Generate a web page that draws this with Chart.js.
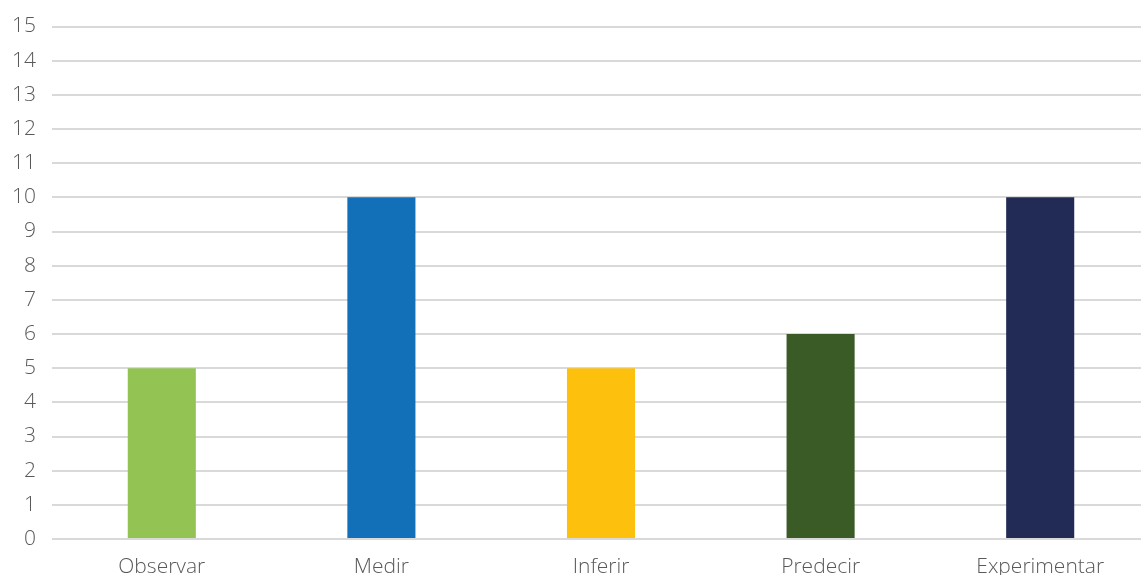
<!DOCTYPE html>
<html>
<head>
<meta charset="utf-8">
<script src="https://cdn.jsdelivr.net/npm/chart.js@4/dist/chart.umd.min.js"></script>
<style>
  html, body { margin: 0; padding: 0; background: #ffffff; overflow: hidden; }
  #wrap { width: 1150px; height: 575px; position: relative; }
</style>
</head>
<body>
<div id="wrap"><canvas id="chart"></canvas></div>
<script>
// Process skills and their counts
const categories = ["Observar", "Medir", "Inferir", "Predecir", "Experimentar"];
const values = [5, 10, 5, 6, 10];
const barColors = ["#93C353", "#1170B7", "#FCC00D", "#3A5A26", "#212B55"];
const yMin = 0;
const yMax = 15;

const tickFont = { family: "'Open Sans', Lato, sans-serif", size: 21, weight: 300, lineHeight: 1.0 };
const tickColor = "#595959";

new Chart(document.getElementById("chart"), {
  type: "bar",
  data: {
    labels: categories,
    datasets: [{
      data: values,
      backgroundColor: barColors,
      borderWidth: 0,
      categoryPercentage: 1.0,
      barPercentage: 0.31
    }]
  },
  options: {
    responsive: true,
    maintainAspectRatio: false,
    animation: false,
    layout: { padding: { top: 26, left: 0, right: 0, bottom: 0 } },
    plugins: {
      legend: { display: false },
      tooltip: { enabled: false }
    },
    scales: {
      x: {
        grid: { display: false, drawTicks: false },
        border: { display: false },
        ticks: { font: tickFont, color: tickColor, padding: 18, maxRotation: 0, autoSkip: false },
        afterFit: (scale) => { scale.height = 36; }
      },
      y: {
        min: yMin,
        max: yMax,
        grid: { color: "#D9D9D9", lineWidth: 2, drawTicks: false },
        border: { display: false },
        ticks: { stepSize: 1, font: tickFont, color: tickColor, padding: 16 },
        afterFit: (scale) => { scale.width = 52; }
      }
    }
  }
});
</script>
</body>
</html>
